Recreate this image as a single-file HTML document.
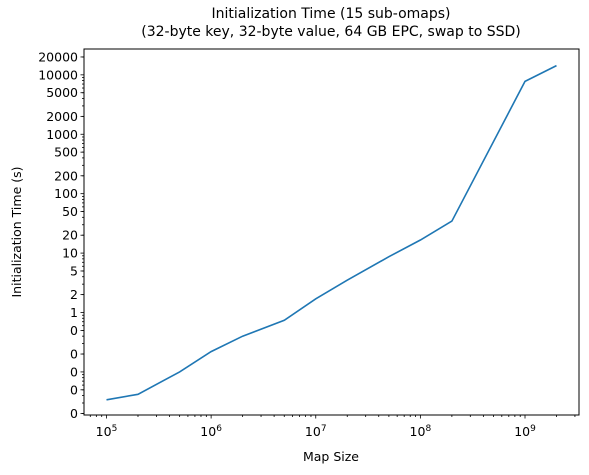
<!DOCTYPE html>
<html><head><meta charset="utf-8"><style>
body{margin:0;background:#fff}
svg{font-family:"DejaVu Sans","Liberation Sans",sans-serif;display:block}
</style></head><body>
<svg id="chart" width="589" height="475">
<text x="331" y="18" text-anchor="middle" font-size="14">Initialization Time (15 sub-omaps)</text>
<text x="331" y="36" text-anchor="middle" font-size="14">(32-byte key, 32-byte value, 64 GB EPC, swap to SSD)</text>
<text x="331" y="461" text-anchor="middle" font-size="12.5">Map Size</text>
<text transform="translate(21,232) rotate(-90)" text-anchor="middle" font-size="12.5">Initialization Time (s)</text>
<g id="ticks"></g>
<path id="line" fill="none" stroke="#1f77b4" stroke-width="1.6"/>
<rect x="84" y="49" width="495" height="366" fill="none" stroke="#000" stroke-width="1"/>
</svg>
<script>
const mapSizes=[1e5,2e5,5e5,1e6,2e6,5e6,1e7,2e7,5e7,1e8,2e8,1e9,2e9];
const initTimes=[0.034,0.042,0.1,0.22,0.40,0.74,1.7,3.5,8.7,16.6,34.6,7750,14300];
const yTickVals=[20000,10000,5000,2000,1000,500,200,100,50,20,10,5,2,1,0.5,0.2,0.1,0.05,0.02];
const yTickLabels=["20000","10000","5000","2000","1000","500","200","100","50","20","10","5","2","1","0","0","0","0","0"];
const xTickExps=[5,6,7,8,9];
const L=84,R=579,T=49,B=415;
const xmin=Math.log10(1e5)-0.215,xmax=Math.log10(2e9)+0.215;
const ymin=-1.725,ymax=4.435;
const X=v=>L+(Math.log10(v)-xmin)/(xmax-xmin)*(R-L);
const Y=v=>B-(Math.log10(v)-ymin)/(ymax-ymin)*(B-T);
const NS="http://www.w3.org/2000/svg";
const g=document.getElementById('ticks');
function ln(x1,y1,x2,y2){const l=document.createElementNS(NS,'line');l.setAttribute('x1',x1);l.setAttribute('y1',y1);l.setAttribute('x2',x2);l.setAttribute('y2',y2);l.setAttribute('stroke','#000');l.setAttribute('stroke-width','0.8');g.appendChild(l);return l;}
for(let e=4;e<=9;e++)for(let m=2;m<=9;m++){const v=m*Math.pow(10,e);const x=X(v);if(x>L&&x<R){const t=ln(x,B,x,B+2);

}}
xTickExps.forEach(e=>{const x=X(Math.pow(10,e));const t=ln(x,B,x,B+3.5);


const tx=document.createElementNS(NS,'text');tx.setAttribute('x',x);tx.setAttribute('y',B+21);tx.setAttribute('text-anchor','middle');tx.setAttribute('font-size','12.5');
tx.innerHTML='10<tspan dy="-5" font-size="9">'+e+'</tspan>';


g.appendChild(tx);});
for(let e=-2;e<=4;e++)for(let m=2;m<=9;m++){const v=m*Math.pow(10,e);const y=Y(v);if(y>T&&y<B){const t=ln(L-2,y,L,y);

}}
yTickVals.forEach((v,i)=>{const y=Y(v);const t=ln(L-3.5,y,L,y);


const tx=document.createElementNS(NS,'text');tx.setAttribute('x',L-6);tx.setAttribute('y',y+4.5);tx.setAttribute('text-anchor','end');tx.setAttribute('font-size','12.5');tx.textContent=yTickLabels[i];


g.appendChild(tx);});
document.getElementById('line').setAttribute('d',mapSizes.map((s,i)=>(i?'L':'M')+X(s).toFixed(1)+','+Y(initTimes[i]).toFixed(1)).join(' '));
</script>
</body></html>
